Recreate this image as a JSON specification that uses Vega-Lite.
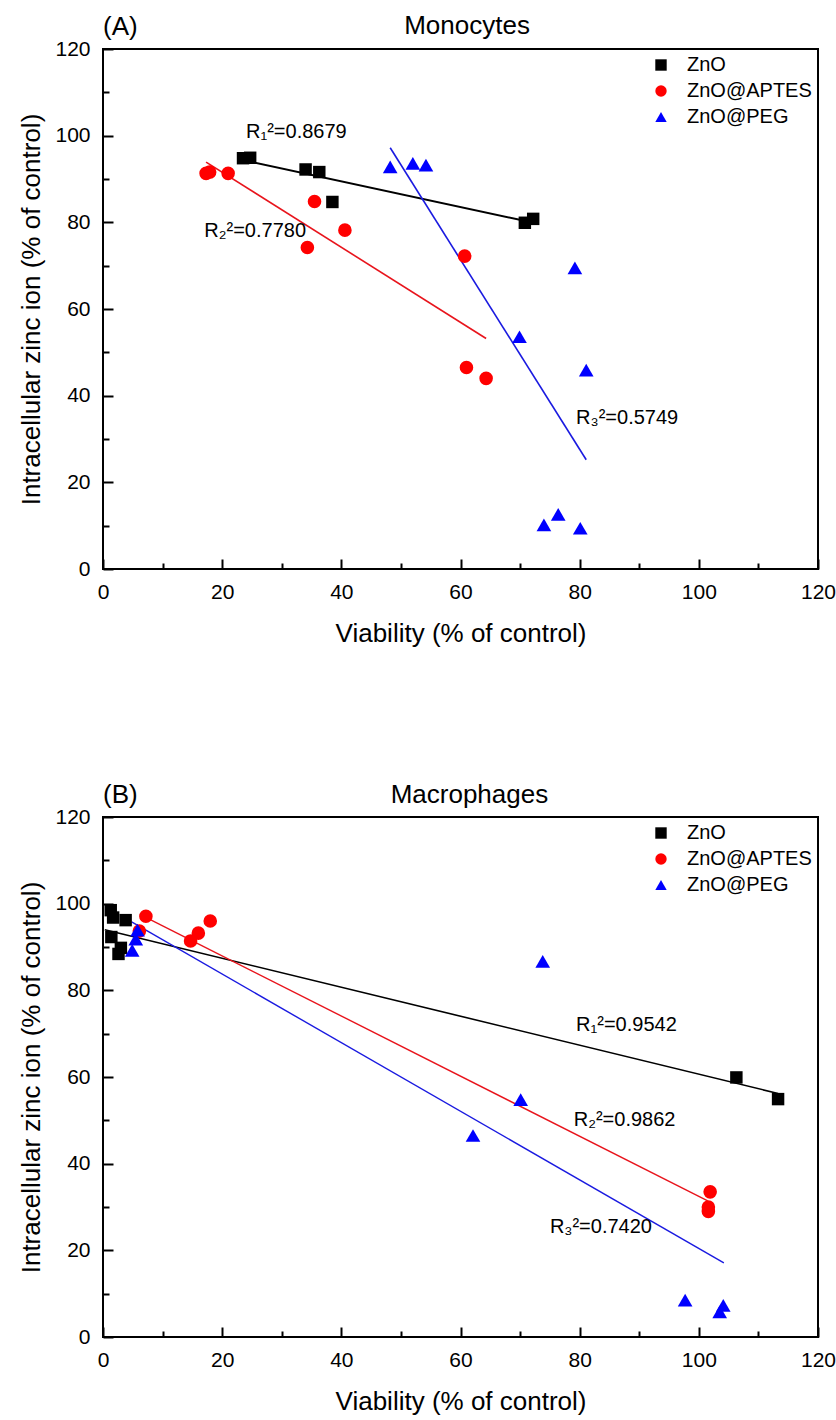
{
  "$schema": "https://vega.github.io/schema/vega-lite/v6.json",
  "padding": {"left": 17, "top": 12, "right": 0, "bottom": 0},
  "datasets": {
    "pts": [
      {"panel": "A", "series": "ZnO", "viability": 23.5, "zinc": 94.8},
      {"panel": "A", "series": "ZnO", "viability": 24.7, "zinc": 94.9},
      {"panel": "A", "series": "ZnO", "viability": 34.0, "zinc": 92.2},
      {"panel": "A", "series": "ZnO", "viability": 36.3, "zinc": 91.6},
      {"panel": "A", "series": "ZnO", "viability": 38.5, "zinc": 84.7},
      {"panel": "A", "series": "ZnO", "viability": 70.8, "zinc": 79.9},
      {"panel": "A", "series": "ZnO", "viability": 72.2, "zinc": 80.8},
      {"panel": "A", "series": "ZnO@APTES", "viability": 17.3, "zinc": 91.3},
      {"panel": "A", "series": "ZnO@APTES", "viability": 17.9, "zinc": 91.6},
      {"panel": "A", "series": "ZnO@APTES", "viability": 21.0, "zinc": 91.3},
      {"panel": "A", "series": "ZnO@APTES", "viability": 35.5, "zinc": 84.8},
      {"panel": "A", "series": "ZnO@APTES", "viability": 40.6, "zinc": 78.2},
      {"panel": "A", "series": "ZnO@APTES", "viability": 34.3, "zinc": 74.2},
      {"panel": "A", "series": "ZnO@APTES", "viability": 60.7, "zinc": 72.2},
      {"panel": "A", "series": "ZnO@APTES", "viability": 61.0, "zinc": 46.5},
      {"panel": "A", "series": "ZnO@APTES", "viability": 64.3, "zinc": 44.0},
      {"panel": "A", "series": "ZnO@PEG", "viability": 48.2, "zinc": 92.8},
      {"panel": "A", "series": "ZnO@PEG", "viability": 52.0, "zinc": 93.6},
      {"panel": "A", "series": "ZnO@PEG", "viability": 54.2, "zinc": 93.2},
      {"panel": "A", "series": "ZnO@PEG", "viability": 79.2, "zinc": 69.5},
      {"panel": "A", "series": "ZnO@PEG", "viability": 69.9, "zinc": 53.6},
      {"panel": "A", "series": "ZnO@PEG", "viability": 81.1, "zinc": 45.9},
      {"panel": "A", "series": "ZnO@PEG", "viability": 74.0, "zinc": 10.2},
      {"panel": "A", "series": "ZnO@PEG", "viability": 76.4, "zinc": 12.6},
      {"panel": "A", "series": "ZnO@PEG", "viability": 80.1, "zinc": 9.4},
      {"panel": "B", "series": "ZnO", "viability": 1.3, "zinc": 98.5},
      {"panel": "B", "series": "ZnO", "viability": 1.7, "zinc": 96.8},
      {"panel": "B", "series": "ZnO", "viability": 3.8, "zinc": 96.2},
      {"panel": "B", "series": "ZnO", "viability": 1.4, "zinc": 92.3},
      {"panel": "B", "series": "ZnO", "viability": 3.0, "zinc": 89.8},
      {"panel": "B", "series": "ZnO", "viability": 2.6, "zinc": 88.4},
      {"panel": "B", "series": "ZnO", "viability": 106.3, "zinc": 59.9},
      {"panel": "B", "series": "ZnO", "viability": 113.3, "zinc": 54.9},
      {"panel": "B", "series": "ZnO@APTES", "viability": 7.2, "zinc": 97.1},
      {"panel": "B", "series": "ZnO@APTES", "viability": 6.1, "zinc": 93.7},
      {"panel": "B", "series": "ZnO@APTES", "viability": 14.7, "zinc": 91.4},
      {"panel": "B", "series": "ZnO@APTES", "viability": 16.0, "zinc": 93.2},
      {"panel": "B", "series": "ZnO@APTES", "viability": 18.0, "zinc": 96.0},
      {"panel": "B", "series": "ZnO@APTES", "viability": 101.9, "zinc": 33.5},
      {"panel": "B", "series": "ZnO@APTES", "viability": 101.6, "zinc": 30.0},
      {"panel": "B", "series": "ZnO@APTES", "viability": 101.6, "zinc": 29.0},
      {"panel": "B", "series": "ZnO@PEG", "viability": 5.8, "zinc": 93.9},
      {"panel": "B", "series": "ZnO@PEG", "viability": 5.5, "zinc": 91.8},
      {"panel": "B", "series": "ZnO@PEG", "viability": 4.9, "zinc": 89.2},
      {"panel": "B", "series": "ZnO@PEG", "viability": 73.8, "zinc": 86.7},
      {"panel": "B", "series": "ZnO@PEG", "viability": 70.1, "zinc": 54.8},
      {"panel": "B", "series": "ZnO@PEG", "viability": 62.1, "zinc": 46.5},
      {"panel": "B", "series": "ZnO@PEG", "viability": 97.7, "zinc": 8.5},
      {"panel": "B", "series": "ZnO@PEG", "viability": 104.1, "zinc": 7.3},
      {"panel": "B", "series": "ZnO@PEG", "viability": 103.5, "zinc": 5.8}
    ],
    "fits": [
      {"panel": "A", "series": "ZnO", "viability": 23.7, "zinc": 94.3},
      {"panel": "A", "series": "ZnO", "viability": 70.9, "zinc": 80.3},
      {"panel": "A", "series": "ZnO@APTES", "viability": 17.3, "zinc": 93.9},
      {"panel": "A", "series": "ZnO@APTES", "viability": 64.3, "zinc": 53.2},
      {"panel": "A", "series": "ZnO@PEG", "viability": 48.2, "zinc": 97.2},
      {"panel": "A", "series": "ZnO@PEG", "viability": 81.1, "zinc": 25.2},
      {"panel": "B", "series": "ZnO", "viability": 0.3, "zinc": 94.0},
      {"panel": "B", "series": "ZnO", "viability": 113.3, "zinc": 56.2},
      {"panel": "B", "series": "ZnO@APTES", "viability": 7.1, "zinc": 96.9},
      {"panel": "B", "series": "ZnO@APTES", "viability": 101.5, "zinc": 31.4},
      {"panel": "B", "series": "ZnO@PEG", "viability": 4.8, "zinc": 95.8},
      {"panel": "B", "series": "ZnO@PEG", "viability": 104.2, "zinc": 17.1}
    ],
    "labels": [
      {"panel": "A", "text": "R₁²=0.8679", "viability": 24.0, "zinc": 100.9},
      {"panel": "A", "text": "R₂²=0.7780", "viability": 17.0, "zinc": 78.1},
      {"panel": "A", "text": "R₃²=0.5749", "viability": 79.4, "zinc": 34.8},
      {"panel": "B", "text": "R₁²=0.9542", "viability": 79.4, "zinc": 71.9},
      {"panel": "B", "text": "R₂²=0.9862", "viability": 79.0, "zinc": 50.0},
      {"panel": "B", "text": "R₃²=0.7420", "viability": 75.0, "zinc": 25.4}
    ],
    "tags": [
      {"panel": "A", "tag": "(A)", "viability": 0, "zinc": 120, "align": "left"},
      {"panel": "A", "tag": "Monocytes", "viability": 61.1, "zinc": 120, "align": "center"},
      {"panel": "B", "tag": "(B)", "viability": 0, "zinc": 120, "align": "left"},
      {"panel": "B", "tag": "Macrophages", "viability": 61.5, "zinc": 120, "align": "center"}
    ]
  },
  "vconcat": [
    {
      "width": 715,
      "height": 520,
      "layer": [
        {
          "data": {"name": "fits"},
          "transform": [{"filter": "datum.panel === 'A' && datum.series === 'ZnO'"}],
          "mark": {"type": "line", "color": "#000000", "strokeWidth": 2},
          "encoding": {
            "x": {"field": "viability", "type": "quantitative"},
            "y": {"field": "zinc", "type": "quantitative"}
          }
        },
        {
          "data": {"name": "fits"},
          "transform": [{"filter": "datum.panel === 'A' && datum.series === 'ZnO@APTES'"}],
          "mark": {"type": "line", "color": "#e8141c", "strokeWidth": 1.6},
          "encoding": {
            "x": {"field": "viability", "type": "quantitative"},
            "y": {"field": "zinc", "type": "quantitative"}
          }
        },
        {
          "data": {"name": "fits"},
          "transform": [{"filter": "datum.panel === 'A' && datum.series === 'ZnO@PEG'"}],
          "mark": {"type": "line", "color": "#1a1ae0", "strokeWidth": 1.6},
          "encoding": {
            "x": {"field": "viability", "type": "quantitative"},
            "y": {"field": "zinc", "type": "quantitative"}
          }
        },
        {
          "data": {"name": "pts"},
          "transform": [{"filter": "datum.panel === 'A' && datum.series === 'ZnO'"}],
          "mark": {"type": "point", "filled": true, "opacity": 1, "size": 155},
          "encoding": {
            "x": {"field": "viability", "type": "quantitative", "title": "Viability (% of control)", "scale": {"domain": [0, 120], "nice": false}, "axis": {"values": [0, 10, 20, 30, 40, 50, 60, 70, 80, 90, 100, 110, 120], "labelExpr": "datum.value % 20 === 0 ? datum.label : ''", "tickSize": {"condition": {"test": "datum.value % 20 === 0", "value": -10}, "value": -6}, "labelPadding": 22}},
            "y": {"field": "zinc", "type": "quantitative", "title": "Intracellular zinc ion (% of control)", "scale": {"domain": [0, 120], "nice": false}, "axis": {"values": [0, 10, 20, 30, 40, 50, 60, 70, 80, 90, 100, 110, 120], "labelExpr": "datum.value % 20 === 0 ? datum.label : ''", "tickSize": {"condition": {"test": "datum.value % 20 === 0", "value": -10}, "value": -6}, "labelPadding": 23}},
            "color": {"field": "series", "type": "nominal", "title": null, "scale": {"domain": ["ZnO", "ZnO@APTES", "ZnO@PEG"], "range": ["#000000", "#ff0000", "#0000ff"]}},
            "shape": {"field": "series", "type": "nominal", "title": null, "scale": {"domain": ["ZnO", "ZnO@APTES", "ZnO@PEG"], "range": ["square", "circle", "triangle-up"]}}
          }
        },
        {
          "data": {"name": "pts"},
          "transform": [{"filter": "datum.panel === 'A' && datum.series === 'ZnO@APTES'"}],
          "mark": {"type": "point", "filled": true, "opacity": 1, "size": 185},
          "encoding": {
            "x": {"field": "viability", "type": "quantitative"},
            "y": {"field": "zinc", "type": "quantitative"},
            "color": {"field": "series", "type": "nominal", "title": null},
            "shape": {"field": "series", "type": "nominal", "title": null}
          }
        },
        {
          "data": {"name": "pts"},
          "transform": [{"filter": "datum.panel === 'A' && datum.series === 'ZnO@PEG'"}],
          "mark": {"type": "point", "filled": true, "opacity": 1, "size": 215},
          "encoding": {
            "x": {"field": "viability", "type": "quantitative"},
            "y": {"field": "zinc", "type": "quantitative"},
            "color": {"field": "series", "type": "nominal", "title": null},
            "shape": {"field": "series", "type": "nominal", "title": null}
          }
        },
        {
          "data": {"name": "labels"},
          "transform": [{"filter": "datum.panel === 'A'"}],
          "mark": {"type": "text", "align": "left", "baseline": "middle", "fontSize": 20, "color": "#000000"},
          "encoding": {
            "x": {"field": "viability", "type": "quantitative"},
            "y": {"field": "zinc", "type": "quantitative"},
            "text": {"field": "text"}
          }
        },
        {
          "data": {"name": "tags"},
          "transform": [{"filter": "datum.panel === 'A' && datum.align === 'left'"}],
          "mark": {"type": "text", "align": "left", "baseline": "middle", "fontSize": 26, "dy": -22, "color": "#000000"},
          "encoding": {
            "x": {"field": "viability", "type": "quantitative"},
            "y": {"field": "zinc", "type": "quantitative"},
            "text": {"field": "tag"}
          }
        },
        {
          "data": {"name": "tags"},
          "transform": [{"filter": "datum.panel === 'A' && datum.align === 'center'"}],
          "mark": {"type": "text", "align": "center", "baseline": "middle", "fontSize": 26, "dy": -23, "color": "#000000"},
          "encoding": {
            "x": {"field": "viability", "type": "quantitative"},
            "y": {"field": "zinc", "type": "quantitative"},
            "text": {"field": "tag"}
          }
        }
      ]
    },
    {
      "width": 715,
      "height": 520,
      "layer": [
        {
          "data": {"name": "fits"},
          "transform": [{"filter": "datum.panel === 'B' && datum.series === 'ZnO'"}],
          "mark": {"type": "line", "color": "#000000", "strokeWidth": 1.6},
          "encoding": {
            "x": {"field": "viability", "type": "quantitative"},
            "y": {"field": "zinc", "type": "quantitative"}
          }
        },
        {
          "data": {"name": "fits"},
          "transform": [{"filter": "datum.panel === 'B' && datum.series === 'ZnO@APTES'"}],
          "mark": {"type": "line", "color": "#e8141c", "strokeWidth": 1.4},
          "encoding": {
            "x": {"field": "viability", "type": "quantitative"},
            "y": {"field": "zinc", "type": "quantitative"}
          }
        },
        {
          "data": {"name": "fits"},
          "transform": [{"filter": "datum.panel === 'B' && datum.series === 'ZnO@PEG'"}],
          "mark": {"type": "line", "color": "#1a1ae0", "strokeWidth": 1.4},
          "encoding": {
            "x": {"field": "viability", "type": "quantitative"},
            "y": {"field": "zinc", "type": "quantitative"}
          }
        },
        {
          "data": {"name": "pts"},
          "transform": [{"filter": "datum.panel === 'B' && datum.series === 'ZnO'"}],
          "mark": {"type": "point", "filled": true, "opacity": 1, "size": 155},
          "encoding": {
            "x": {"field": "viability", "type": "quantitative", "title": "Viability (% of control)", "scale": {"domain": [0, 120], "nice": false}, "axis": {"values": [0, 10, 20, 30, 40, 50, 60, 70, 80, 90, 100, 110, 120], "labelExpr": "datum.value % 20 === 0 ? datum.label : ''", "tickSize": {"condition": {"test": "datum.value % 20 === 0", "value": -10}, "value": -6}, "labelPadding": 22}},
            "y": {"field": "zinc", "type": "quantitative", "title": "Intracellular zinc ion (% of control)", "scale": {"domain": [0, 120], "nice": false}, "axis": {"values": [0, 10, 20, 30, 40, 50, 60, 70, 80, 90, 100, 110, 120], "labelExpr": "datum.value % 20 === 0 ? datum.label : ''", "tickSize": {"condition": {"test": "datum.value % 20 === 0", "value": -10}, "value": -6}, "labelPadding": 23}},
            "color": {"field": "series", "type": "nominal", "title": null, "scale": {"domain": ["ZnO", "ZnO@APTES", "ZnO@PEG"], "range": ["#000000", "#ff0000", "#0000ff"]}},
            "shape": {"field": "series", "type": "nominal", "title": null, "scale": {"domain": ["ZnO", "ZnO@APTES", "ZnO@PEG"], "range": ["square", "circle", "triangle-up"]}}
          }
        },
        {
          "data": {"name": "pts"},
          "transform": [{"filter": "datum.panel === 'B' && datum.series === 'ZnO@APTES'"}],
          "mark": {"type": "point", "filled": true, "opacity": 1, "size": 185},
          "encoding": {
            "x": {"field": "viability", "type": "quantitative"},
            "y": {"field": "zinc", "type": "quantitative"},
            "color": {"field": "series", "type": "nominal", "title": null},
            "shape": {"field": "series", "type": "nominal", "title": null}
          }
        },
        {
          "data": {"name": "pts"},
          "transform": [{"filter": "datum.panel === 'B' && datum.series === 'ZnO@PEG'"}],
          "mark": {"type": "point", "filled": true, "opacity": 1, "size": 215},
          "encoding": {
            "x": {"field": "viability", "type": "quantitative"},
            "y": {"field": "zinc", "type": "quantitative"},
            "color": {"field": "series", "type": "nominal", "title": null},
            "shape": {"field": "series", "type": "nominal", "title": null}
          }
        },
        {
          "data": {"name": "labels"},
          "transform": [{"filter": "datum.panel === 'B'"}],
          "mark": {"type": "text", "align": "left", "baseline": "middle", "fontSize": 20, "color": "#000000"},
          "encoding": {
            "x": {"field": "viability", "type": "quantitative"},
            "y": {"field": "zinc", "type": "quantitative"},
            "text": {"field": "text"}
          }
        },
        {
          "data": {"name": "tags"},
          "transform": [{"filter": "datum.panel === 'B' && datum.align === 'left'"}],
          "mark": {"type": "text", "align": "left", "baseline": "middle", "fontSize": 26, "dy": -22, "color": "#000000"},
          "encoding": {
            "x": {"field": "viability", "type": "quantitative"},
            "y": {"field": "zinc", "type": "quantitative"},
            "text": {"field": "tag"}
          }
        },
        {
          "data": {"name": "tags"},
          "transform": [{"filter": "datum.panel === 'B' && datum.align === 'center'"}],
          "mark": {"type": "text", "align": "center", "baseline": "middle", "fontSize": 26, "dy": -22, "color": "#000000"},
          "encoding": {
            "x": {"field": "viability", "type": "quantitative"},
            "y": {"field": "zinc", "type": "quantitative"},
            "text": {"field": "tag"}
          }
        }
      ]
    }
  ],
  "spacing": 134,
  "resolve": {
    "scale": {"color": "independent", "shape": "independent", "x": "independent", "y": "independent"},
    "legend": {"color": "independent", "shape": "independent"}
  },
  "config": {
    "font": "Liberation Sans",
    "background": "#ffffff",
    "view": {"stroke": "#000000", "strokeWidth": 2},
    "axis": {
      "grid": false,
      "domain": false,
      "labelFontSize": 21,
      "labelColor": "#000000",
      "titleFontSize": 26,
      "titleFontWeight": "normal",
      "titleColor": "#000000",
      "tickColor": "#000000",
      "tickWidth": 2,
      "labelFlush": false,
      "labelOverlap": false
    },
    "axisX": {"titlePadding": 14},
    "axisY": {"titlePadding": 10},
    "legend": {
      "orient": "top-right",
      "offset": 6,
      "labelFontSize": 20,
      "labelColor": "#000000",
      "symbolSize": 130,
      "symbolStrokeWidth": 0,
      "rowPadding": 6,
      "labelOffset": 16
    }
  }
}
